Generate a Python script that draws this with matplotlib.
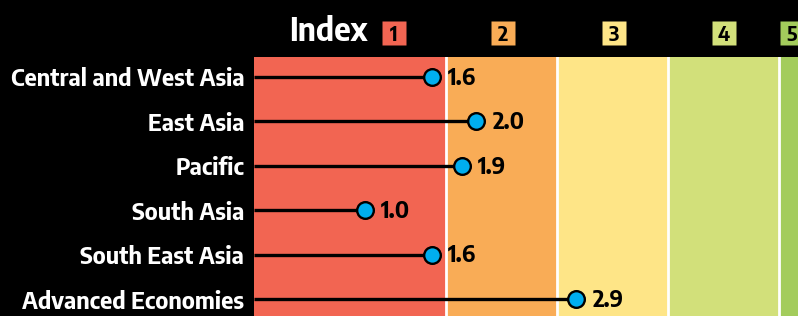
import matplotlib
matplotlib.use("Agg")
import matplotlib.pyplot as plt

plt.rcParams['font.family'] = ['Encode Sans Semi Condensed', 'DejaVu Sans']
plt.rcParams['font.weight'] = 'bold'

# data
regions = ['Central and West Asia', 'East Asia', 'Pacific', 'South Asia',
           'South East Asia', 'Advanced Economies']
index_vals = [1.6, 2.0, 1.87, 1.0, 1.6, 2.9]

band_edges = [0, 1.725, 2.725, 3.725, 4.725, 5.2]
band_colors = ['#F26552', '#F9AC56', '#FEE587', '#D2E07A', '#A3CC5C']
band_labels = ['1', '2', '3', '4', '5']
band_label_x = [1.26, 2.24, 3.24, 4.23, 4.84]

fig = plt.figure(figsize=(7.98, 3.16), dpi=100, facecolor='black')
ax = fig.add_axes([254 / 798, 0, 544 / 798, 259 / 316])
ax.set_facecolor('black')

for i in range(len(band_colors)):
    ax.axvspan(band_edges[i], band_edges[i + 1], color=band_colors[i], lw=0, zorder=0)
for e in band_edges[1:-1]:
    ax.axvline(e, color='white', lw=2, zorder=1)

y = list(range(len(regions)))
ax.hlines(y, 0, index_vals, color='black', lw=2.4, zorder=2)
ax.plot(index_vals, y, 'o', ms=12, mfc='#00AEEF', mec='black', mew=1.7, zorder=3)
for yi, v in zip(y, index_vals):
    ax.annotate(f'{v:.1f}', (v, yi), xytext=(11.5, -0.5), textcoords='offset points',
                va='center', ha='left', fontsize=16.5, color='black', zorder=4)

ax.set_xlim(0, 4.895)
ax.set_ylim(5.38, -0.45)
ax.set_xticks([])
ax.set_yticks(y)
ax.set_yticklabels(regions, color='white', fontsize=17)
ax.tick_params(axis='y', length=0, pad=7)
for s in ax.spines.values():
    s.set_visible(False)

# header: coloured squares with the band numbers
for lab, xl, c in zip(band_labels, band_label_x, band_colors):
    ax.plot([xl], [-0.98], marker='s', ms=16.6, mfc=c, mec='none', clip_on=False)
    ax.text(xl, -0.98, lab, ha='center', va='center_baseline', fontsize=14.5,
            color='black', clip_on=False)
fig.text(289 / 798, 1 - 41 / 316, 'Index', color='white', fontsize=23,
         ha='left', va='baseline')

fig.savefig('out.png', facecolor='black')
